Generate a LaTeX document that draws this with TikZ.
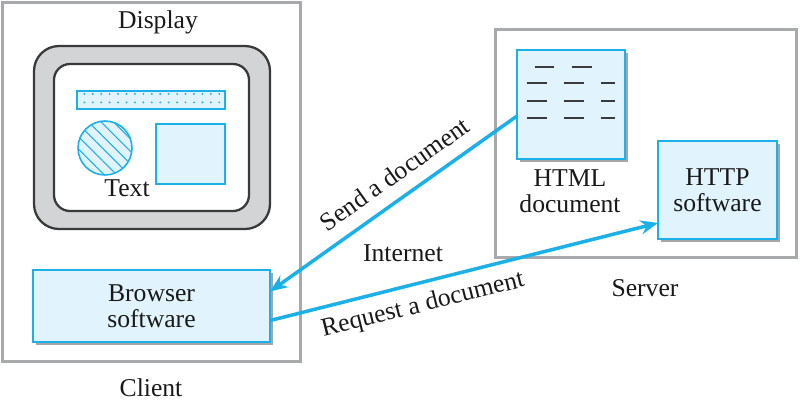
\documentclass[tikz,border=0pt]{standalone}
\usepackage{fontspec}
\setmainfont{Liberation Serif}
\usetikzlibrary{arrows.meta,shadows,patterns.meta}
\definecolor{netcyan}{HTML}{1CB0E8}
\definecolor{netfill}{HTML}{E1F3FC}
\definecolor{framegray}{HTML}{A7A9AC}
\definecolor{monitorgray}{HTML}{D3D4D6}
\definecolor{darkline}{HTML}{3A3A3C}
\tikzset{
    frame/.style={draw=framegray, line width=1.7pt, inner sep=0pt, outer sep=0pt},
    swbox/.style={draw=netcyan, fill=netfill, line width=1pt, inner sep=0pt, outer sep=0pt, align=center,
        drop shadow={shadow xshift=1.8pt, shadow yshift=-1.8pt, fill=black!35, opacity=1}},
    link/.style={draw=netcyan, line width=2pt, -{Stealth[length=10pt, width=8pt]}},
    lbl/.style={font=\fontsize{14.6}{14.6}\selectfont, text=black!90}
}
\begin{document}
\begin{tikzpicture}[x=0.02cm, y=-0.02cm]
    \useasboundingbox (0,0) rectangle (800,406);
    % Client and server frames
    \node[frame, minimum width=5.98cm, minimum height=7.2cm] (client) at (151.5,182) {};
    \node[frame, minimum width=6.04cm, minimum height=4.58cm] (server) at (646,143.5) {};
    \node[lbl] (clientlbl) at (151,388) {Client};
    \node[lbl] (serverlbl) at (645,288) {Server};
    \node[lbl] (displaylbl) at (158,22) {Display};
    % Monitor
    \draw[darkline, fill=monitorgray, line width=1.3pt, rounded corners=0.5cm] (34,46) rectangle (270,229);
    \draw[darkline, fill=white, line width=1.3pt, rounded corners=0.32cm] (54,64) rectangle (249,211);
    \draw[netcyan, fill=netfill, line width=0.9pt] (77,91) rectangle (225,109);
    \fill[pattern={Dots[distance=4.8pt, radius=0.6pt]}, pattern color=netcyan] (77,91) rectangle (225,109);
    \draw[netcyan, fill=netfill, line width=0.9pt] (105,148) circle (0.54cm);
    \fill[pattern={Lines[angle=-45, distance=5pt, line width=0.6pt]}, pattern color=netcyan] (105,148) circle (0.54cm);
    \draw[netcyan, fill=netfill, line width=0.9pt] (156,124) rectangle (225,184);
    \node[lbl] (textlbl) at (127,188) {Text};
    % Software boxes
    \node[swbox, lbl, minimum width=4.74cm, minimum height=1.44cm] (browser) at (151.5,306) {Browser\\software};
    \node[swbox, minimum width=2.16cm, minimum height=2.18cm] (html) at (571,104.5) {};
    \node[swbox, lbl, minimum width=2.38cm, minimum height=1.96cm] (http) at (717.5,190) {HTTP\\software};
    \node[lbl, align=center] (htmllbl) at (570,191) {HTML\\document};
    % Lines of the document
    \foreach \a/\b in {535/554, 572/592} {
            \draw[darkline, line width=1.2pt] (\a,67) -- (\b,67);
        }
    \foreach \y in {83, 101, 118} {
            \foreach \a/\b in {527/547, 564/584, 601/615} {
                    \draw[darkline, line width=1.2pt] (\a,\y) -- (\b,\y);
                }
        }
    % Links
    \draw[link] (html.192) -- (browser.7.7) node[pos=0.44, above=4pt, sloped, lbl] {Send a document};
    \draw[link] (browser.-7.7) -- (http.209.7) node[pos=0.38, below=2pt, sloped, lbl] {Request a document};
    \node[lbl] (internet) at (403,253) {Internet};
\end{tikzpicture}
\end{document}
